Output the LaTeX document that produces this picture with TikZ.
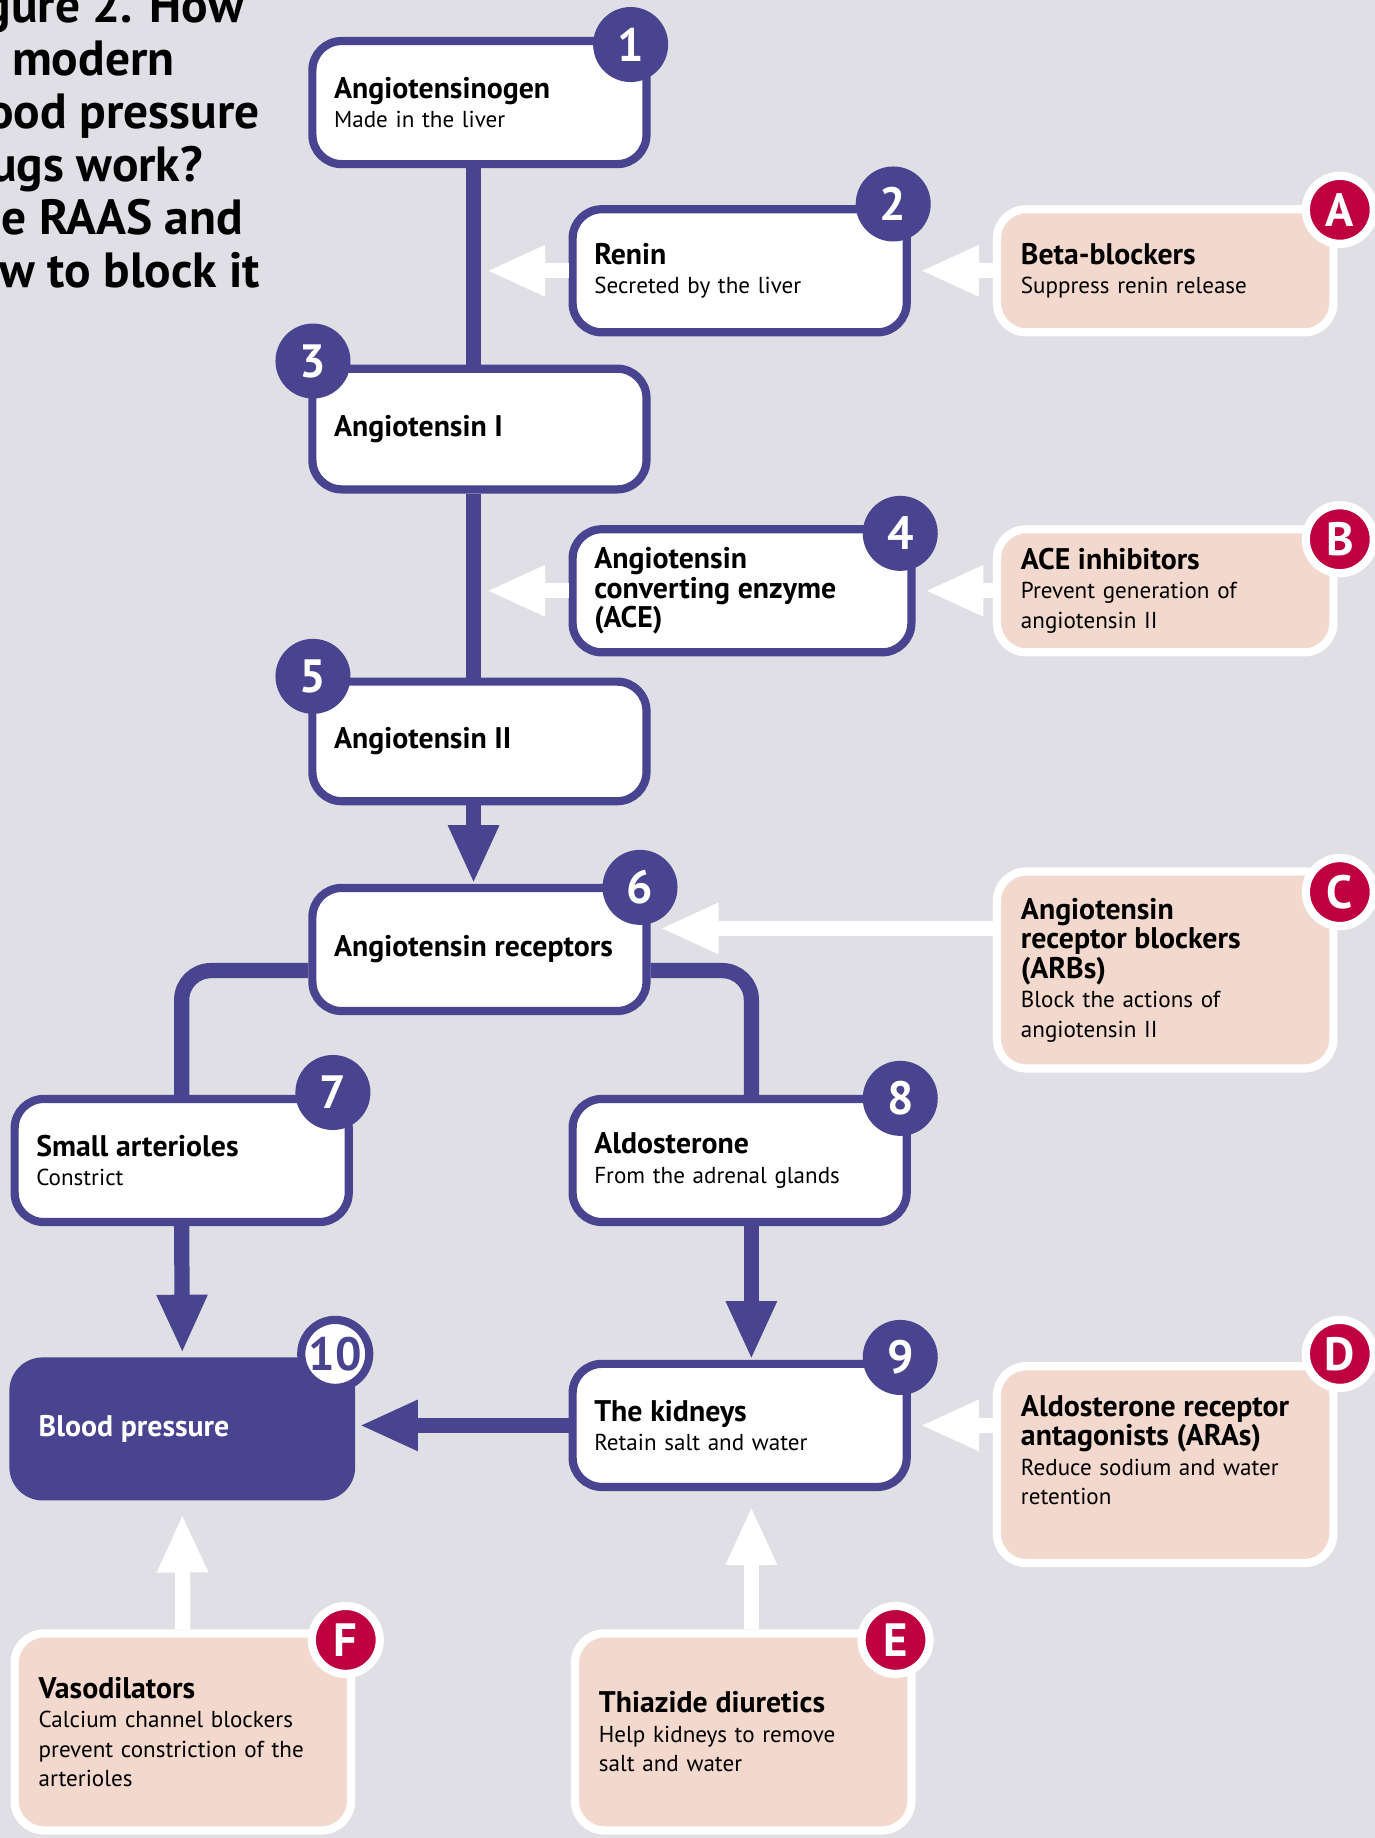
\documentclass[tikz,border=0pt]{standalone}
\usepackage{fontspec}
\setmainfont{PT Sans}
\usetikzlibrary{arrows.meta,positioning,calc}

\definecolor{bggray}{RGB}{224,223,229}
\definecolor{raaspurple}{RGB}{72,68,143}
\definecolor{drugred}{RGB}{190,0,64}
\definecolor{drugpink}{RGB}{242,216,205}

\newcommand{\boxhead}[1]{{\fontsize{21.7}{21.5}\selectfont\bfseries #1}}

\tikzset{
  basebox/.style={rounded corners=0.75cm, line width=0.21cm, align=left, inner sep=0pt,
    minimum height=3.15cm, font=\fontsize{16.8}{21.5}\selectfont},
  stage/.style={basebox, draw=raaspurple, fill=white, minimum width=8.55cm, text width=7.44cm},
  drug/.style={basebox, draw=white, fill=drugpink, minimum width=8.61cm, text width=7.38cm},
  stepnum/.style={circle, fill=raaspurple, text=white, inner sep=0pt, minimum size=1.92cm,
    font=\fontsize{34}{34}\selectfont\bfseries},
  drugnum/.style={circle, fill=drugred, draw=white, line width=0.21cm, text=white, inner sep=0pt,
    minimum size=1.74cm, font=\fontsize{34}{34}\selectfont\bfseries},
  flow/.style={draw=raaspurple, line width=0.39cm},
  flowarrow/.style={flow, -{Triangle[width=1.2cm,length=1.5cm]}},
  block/.style={draw=white, line width=0.39cm, -{Triangle[width=1.2cm,length=1.5cm]}, shorten >=0.24cm},
  headline/.style={font=\fontsize{36}{38}\selectfont\bfseries, inner sep=0pt, anchor=base west}
}

\begin{document}
\begin{tikzpicture}[x=0.03cm,y=-0.03cm]
\useasboundingbox (0,0) rectangle (1173,1568);
\clip (0,0) rectangle (1173,1568);
\fill[bggray] (0,0) rectangle (1173,1568);

\foreach \line [count=\i from 0] in {Figure 2. How, do modern, blood pressure, drugs work?, The RAAS and, how to block it}
    \node[headline] (head\i) at (-46,{19+45.25*\i}) {\line};

% pathway
\node[stage] (n1) at (409,87.5) {\boxhead{Angiotensinogen}\\ Made in the liver};
\node[stage] (n2) at (631,231) {\boxhead{Renin}\\ Secreted by the liver};
\node[stage, minimum height=3.09cm] (n3) at (409,366) {\boxhead{Angiotensin I}};
\node[stage, minimum width=8.67cm, text width=7.56cm] (n4) at (633,504)
    {\boxhead{Angiotensin}\\ \boxhead{converting enzyme}\\ \boxhead{(ACE)}};
\node[stage, minimum height=3.06cm] (n5) at (409,632.5) {\boxhead{Angiotensin II}};
\node[stage] (n6) at (409,810) {\boxhead{Angiotensin receptors}};
\node[stage] (n7) at (155,990) {\boxhead{Small arterioles}\\ Constrict};
\node[stage] (n8) at (631,990) {\boxhead{Aldosterone}\\ From the adrenal glands};
\node[stage] (n9) at (631,1216) {\boxhead{The kidneys}\\ Retain salt and water};
\node[basebox, fill=raaspurple, text=white, rounded corners=0.85cm, minimum width=8.85cm,
    minimum height=3.66cm, text width=7.35cm] (n10) at (155.5,1219) {\boxhead{Blood pressure}};

% drugs
\node[drug] (nA) at (994,231) {\boxhead{Beta-blockers}\\ Suppress renin release};
\node[drug] (nB) at (994,504) {\boxhead{ACE inhibitors}\\ Prevent generation of\\ angiotensin II};
\node[drug, minimum height=5.04cm] (nC) at (994,827.5)
    {\boxhead{Angiotensin}\\ \boxhead{receptor blockers}\\ \boxhead{(ARBs)}\\ Block the actions of\\ angiotensin II};
\node[drug, minimum height=5.04cm] (nD) at (994,1249.5)
    {\boxhead{Aldosterone receptor}\\ \boxhead{antagonists (ARAs)}\\ Reduce sodium and water\\ retention\\ \mbox{}};
\node[drug, minimum height=5.04cm] (nE) at (634,1477.5)
    {\boxhead{Thiazide diuretics}\\ Help kidneys to remove\\ salt and water};
\node[drug, minimum height=5.04cm] (nF) at (156,1477.5)
    {\boxhead{Vasodilators}\\ Calcium channel blockers\\ prevent constriction of the\\ arterioles};

\coordinate (stem) at (404,0);
\coordinate (rbranch) at (641,0);

\draw[flow] (n1.south -| stem) -- (n3.north -| stem);
\draw[flow] (n3.south -| stem) -- (n5.north -| stem);
\draw[flowarrow] (n5.south -| stem) -- (n6.north -| stem);
\draw[flow, rounded corners=0.75cm] ([yshift=-0.54cm]n6.west) -| (n7.north);
\draw[flow, rounded corners=0.75cm] ([yshift=-0.54cm]n6.east) -| (n8.north -| rbranch);
\draw[flowarrow] (n7.south) -- (n10.north);
\draw[flowarrow] (n8.south -| rbranch) -- (n9.north -| rbranch);
\draw[flowarrow] (n9.west) -- (n9.west -| n10.east);

\draw[block, shorten >=0.33cm] (n2.west) -- (n2.west -| stem);
\draw[block] (nA.west) -- (nA.west -| n2.east);
\draw[block, shorten >=0.33cm] (n4.west) -- (n4.west -| stem);
\draw[block] (nB.west) -- (nB.west -| n4.east);
\draw[block] ([yshift=1.065cm]nC.west) -- ([yshift=1.065cm]nC.west -| n6.east);
\draw[block] (n9.east -| nD.west) -- (n9.east);
\draw[block, shorten >=0.39cm] (nE.north -| rbranch) -- (n9.south -| rbranch);
\draw[block] (nF.north) -- (n10.south);

% numbers
\foreach \n/\x/\y in {1/538/38, 2/762/174, 3/267/308, 4/768/455, 5/267/577,
    6/546/757, 7/284/932, 8/768/937, 9/768/1158}
    \node[stepnum] (b\n) at (\x,\y) {\n};
\node[stepnum, fill=white, draw=raaspurple, line width=0.21cm, text=raaspurple, minimum size=1.74cm]
    (b10) at (286,1155) {10};
\foreach \n/\x/\y in {A/1143/179, B/1143/460, C/1143/761, D/1143/1155, E/764/1399, F/295/1399}
    \node[drugnum] (b\n) at (\x,\y) {\n};
\end{tikzpicture}
\end{document}
